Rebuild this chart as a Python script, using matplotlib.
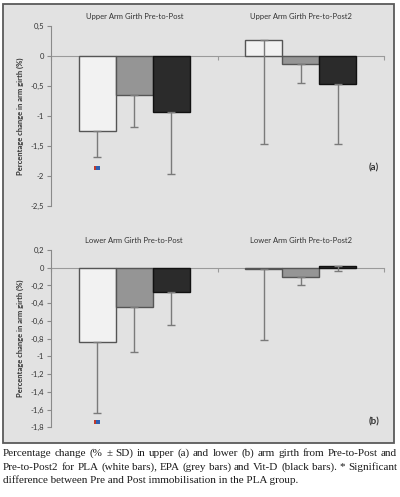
import numpy as np
import matplotlib
matplotlib.use("Agg")
import matplotlib.pyplot as plt
from matplotlib.patches import Rectangle
from matplotlib.ticker import FuncFormatter
from matplotlib.transforms import offset_copy

# data
groups = ["Pre-to-Post", "Pre-to-Post2"]
upper_titles = ["Upper Arm Girth Pre-to-Post", "Upper Arm Girth Pre-to-Post2"]
lower_titles = ["Lower Arm Girth Pre-to-Post", "Lower Arm Girth Pre-to-Post2"]

pla_upper = [-1.25, 0.27]
pla_upper_sd = [0.44, 1.73]
epa_upper = [-0.645, -0.14]
epa_upper_sd = [0.545, 0.31]
vitd_upper = [-0.93, -0.47]
vitd_upper_sd = [1.04, 1.0]

pla_lower = [-0.835, -0.01]
pla_lower_sd = [0.80, 0.80]
epa_lower = [-0.448, -0.105]
epa_lower_sd = [0.497, 0.093]
vitd_lower = [-0.27, 0.02]
vitd_lower_sd = [0.372, 0.057]

sig_upper = -1.86   # significance mark under PLA, Pre-to-Post
sig_lower = -1.745

caption_lines = [
    "Percentage change (% \u00b1 SD) in upper (a) and lower (b) arm girth from Pre-to-Post and",
    "Pre-to-Post2 for PLA (white bars), EPA (grey bars) and Vit-D (black bars). * Significant",
    "difference between Pre and Post immobilisation in the PLA group.",
]

W, H = 400, 497
fig = plt.figure(figsize=(W / 100, H / 100), dpi=100)
fig.patch.set_facecolor("white")

# grey frame behind both charts
frame = Rectangle((3 / W, 1 - 443 / H), 391 / W, 439 / H,
                  transform=fig.transFigure, facecolor="#e2e2e2",
                  edgecolor="#5a5a5a", lw=1.3, zorder=-5)
fig.patches.append(frame)

font = "Lato"
txt_col = "#333333"
bar_w = 0.223
fills = ["#f2f2f2", "#959595", "#2b2b2b"]
edges = ["#555555", "#555555", "#111111"]


def fmt(v, pos):
    s = f"{v:.1f}".rstrip("0").rstrip(".")
    if s == "-0":
        s = "0"
    return s.replace(".", ",")


def panel(rect, series, sds, ylim, yticks, titles, sig, tag, tag_y, title_pad):
    ax = fig.add_axes(rect)
    ax.set_facecolor("none")
    x = np.arange(len(groups))
    for i, (vals, sd) in enumerate(zip(series, sds)):
        xp = x + (i - 1) * bar_w
        ax.bar(xp, vals, width=bar_w, color=fills[i], edgecolor=edges[i], lw=1.0, zorder=2)
        ax.errorbar(xp, vals, yerr=[sd, np.zeros(len(sd))], fmt="none",
                    ecolor="#7a7a7a", elinewidth=1.0, capsize=2.6, capthick=1.0, zorder=3)
    ax.set_xlim(-0.5, 1.5)
    ax.set_ylim(*ylim)
    ax.set_yticks(yticks)
    ax.yaxis.set_major_formatter(FuncFormatter(fmt))
    ax.set_xticks([-0.5, 0.5, 1.5])
    ax.set_xticklabels([])
    for s in ["top", "right"]:
        ax.spines[s].set_visible(False)
    ax.spines["bottom"].set_position(("data", 0))
    ax.spines["bottom"].set_color("#9a9a9a")
    ax.spines["bottom"].set_zorder(1)
    ax.spines["left"].set_color("#8a8a8a")
    ax.tick_params(axis="y", direction="out", length=3, color="#8a8a8a",
                   labelsize=5.5, labelcolor=txt_col, pad=2)
    ax.tick_params(axis="x", direction="out", length=3, color="#9a9a9a")
    for lab in ax.get_yticklabels():
        lab.set_fontfamily(font)
    for xi, t in zip(x, titles):
        ax.text(xi, 1.0 + title_pad, t, transform=ax.get_xaxis_transform(), ha="center",
                va="bottom", fontsize=5.5, family=font, color=txt_col)
    ax.set_ylabel("Percentage change in arm girth (%)", fontsize=5.5, family=font,
                  fontweight="bold", color=txt_col)
    ax.yaxis.set_label_coords(-0.08, 0.5)
    # significance mark (rendered as a tiny red/blue glyph in the source)
    tl = offset_copy(ax.transData, fig=fig, x=-1.1, y=0, units="dots")
    tr = offset_copy(ax.transData, fig=fig, x=1.1, y=0, units="dots")
    xs = x[0] - bar_w
    ax.plot([xs], [sig], marker="s", ms=2.4, mew=0, color="#c0392b", transform=tl, zorder=4)
    ax.plot([xs], [sig], marker="s", ms=2.4, mew=0, color="#2e5fb0", transform=tr, zorder=4)
    ax.text(0.985, tag_y, tag, transform=ax.transAxes, ha="right", va="center",
            fontsize=7, fontweight="bold", family=font, color=txt_col)
    return ax


ax1 = panel([51 / W, 1 - 206 / H, 333 / W, 180 / H],
            [pla_upper, epa_upper, vitd_upper],
            [pla_upper_sd, epa_upper_sd, vitd_upper_sd],
            (-2.5, 0.5), np.arange(-2.5, 0.51, 0.5), upper_titles, sig_upper, "(a)", 0.21,
            6 / 180)

ax2 = panel([51 / W, 1 - 427.3 / H, 333 / W, 177.3 / H],
            [pla_lower, epa_lower, vitd_lower],
            [pla_lower_sd, epa_lower_sd, vitd_lower_sd],
            (-1.8, 0.2), np.arange(-1.8, 0.21, 0.2), lower_titles, sig_lower, "(b)", 0.03,
            6 / 177)

# justified caption below the frame
renderer = fig.canvas.get_renderer()
x0, x1 = 3 / W, 397 / W
line_y = [453, 467, 480]
cap_kw = dict(fontsize=8.0, family="Liberation Serif", color="#1a1a1a", va="center", ha="left")
for k, (line, yy) in enumerate(zip(caption_lines, line_y)):
    yf = 1 - yy / H
    if k == len(caption_lines) - 1:
        fig.text(x0, yf, line, **cap_kw)
        continue
    words = line.split(" ")
    objs = [fig.text(0, yf, w, **cap_kw) for w in words]
    widths = [o.get_window_extent(renderer).width / W for o in objs]
    gap = (x1 - x0 - sum(widths)) / (len(words) - 1)
    pos = x0
    for o, wd in zip(objs, widths):
        o.set_x(pos)
        pos += wd + gap

fig.savefig("out.png", dpi=100)
